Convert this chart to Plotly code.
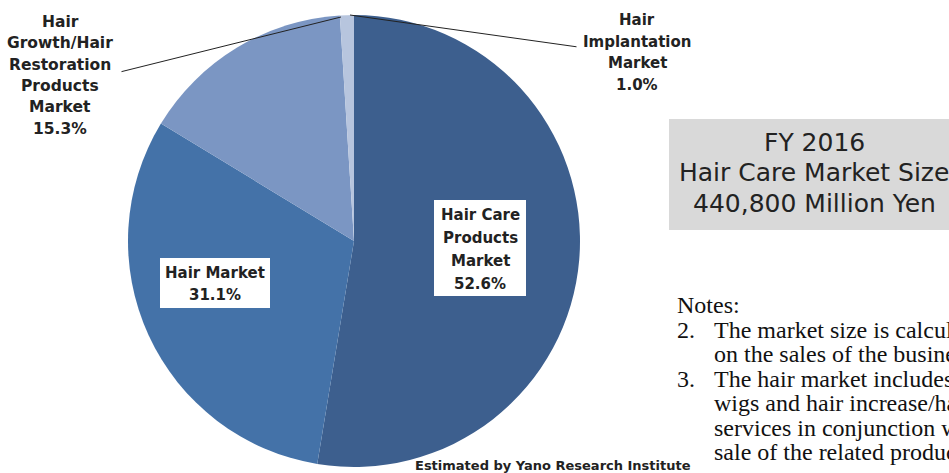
import plotly.graph_objects as go

segments = ["Hair Care Products Market", "Hair Market",
            "Hair Growth/Hair Restoration Products Market", "Hair Implantation Market"]
shares = [52.6, 31.1, 15.3, 1.0]
colors = ["#3d5f8e", "#4472a8", "#7b96c3", "#b7c5de"]

growth_label = ["Hair", "Growth/Hair", "Restoration", "Products", "Market"]
implant_label = ["Hair", "Implantation", "Market"]
care_label = ["Hair Care", "Products", "Market"]
hairmkt_label = ["Hair Market"]

box_lines = ["FY 2016", "Hair Care Market Size", "440,800 Million Yen"]
note_lines = [
    ("Notes:", ""),
    ("2.", "The market size is calculated based"),
    ("", "on the sales of the business operators."),
    ("3.", "The hair market includes sales of"),
    ("", "wigs and hair increase/hair growth"),
    ("", "services in conjunction with the"),
    ("", "sale of the related products."),
]
source = "Estimated by Yano Research Institute"

W, H = 949, 473
fig = go.Figure()
fig.add_trace(go.Pie(
    labels=segments, values=shares, sort=False, direction="clockwise", rotation=0,
    marker=dict(colors=colors, line=dict(width=0)),
    textinfo="none", hoverinfo="label+percent", showlegend=False,
    domain=dict(x=[(354 - 226) / W, (354 + 226) / W], y=[(232 - 226) / H, (232 + 226) / H]),
))

F = "DejaVu Sans, sans-serif"
def px(x): return x / W
def py(y): return 1 - y / H

def block(lines, cx, y0, step, size=15, bold=True):
    for i, t in enumerate(lines):
        fig.add_annotation(x=px(cx), y=py(y0 + i * step), xref="paper", yref="paper",
                           text=f"<b>{t}</b>" if bold else t, showarrow=False,
                           xanchor="center", yanchor="middle",
                           font=dict(family=F, size=size, color="#222"))

# outside labels
block(growth_label + [f"{shares[2]:.1f}%"], 60, 22, 21.3, size=15.5)
block(implant_label + [f"{shares[3]:.1f}%"], 637, 20, 21.5)
# leader lines
fig.add_annotation(x=px(341), y=py(17), xref="paper", yref="paper", ax=120 - 341, ay=72 - 17,
                   showarrow=True, arrowhead=0, arrowwidth=1, arrowcolor="#222", text="")
fig.add_annotation(x=px(350), y=py(15), xref="paper", yref="paper", ax=578 - 350, ay=47 - 15,
                   showarrow=True, arrowhead=0, arrowwidth=1, arrowcolor="#222", text="")
# inside labels with white boxes
fig.add_shape(type="rect", xref="paper", yref="paper", x0=px(160), x1=px(270),
              y0=py(308), y1=py(258), fillcolor="white", line=dict(width=0))
block(hairmkt_label + [f"{shares[1]:.1f}%"], 215, 273, 22)
fig.add_shape(type="rect", xref="paper", yref="paper", x0=px(434), x1=px(526),
              y0=py(296), y1=py(200), fillcolor="white", line=dict(width=0))
block(care_label + [f"{shares[0]:.1f}%"], 480, 215, 23)

# grey box
fig.add_shape(type="rect", xref="paper", yref="paper", x0=px(669), x1=px(960),
              y0=py(230), y1=py(119), fillcolor="#d9d9d9", line=dict(width=0), layer="below")
for i, t in enumerate(box_lines):
    fig.add_annotation(x=px(814), y=py(142 + i * 30.5), xref="paper", yref="paper",
                       text=t, showarrow=False, xanchor="center", yanchor="middle",
                       font=dict(family=F, size=25, color="#222"))

# notes
for i, (num, txt) in enumerate(note_lines):
    y = py(305 + i * 24.5)
    if num:
        fig.add_annotation(x=px(675), y=y, xref="paper", yref="paper", text=num,
                           showarrow=False, xanchor="left", yanchor="middle",
                           font=dict(family="Liberation Serif", size=24, color="#111"))
    if txt:
        fig.add_annotation(x=px(712), y=y, xref="paper", yref="paper", text=txt,
                           showarrow=False, xanchor="left", yanchor="middle",
                           font=dict(family="Liberation Serif", size=24, color="#111"))

fig.add_annotation(x=px(553), y=py(465), xref="paper", yref="paper", text="<b>" + source + "</b>",
                   showarrow=False, xanchor="center", yanchor="middle",
                   font=dict(family=F, size=13, color="#222"))

fig.update_layout(width=W, height=H, margin=dict(l=0, r=0, t=0, b=0),
                  paper_bgcolor="white", plot_bgcolor="white")
fig.write_html("out.html")
